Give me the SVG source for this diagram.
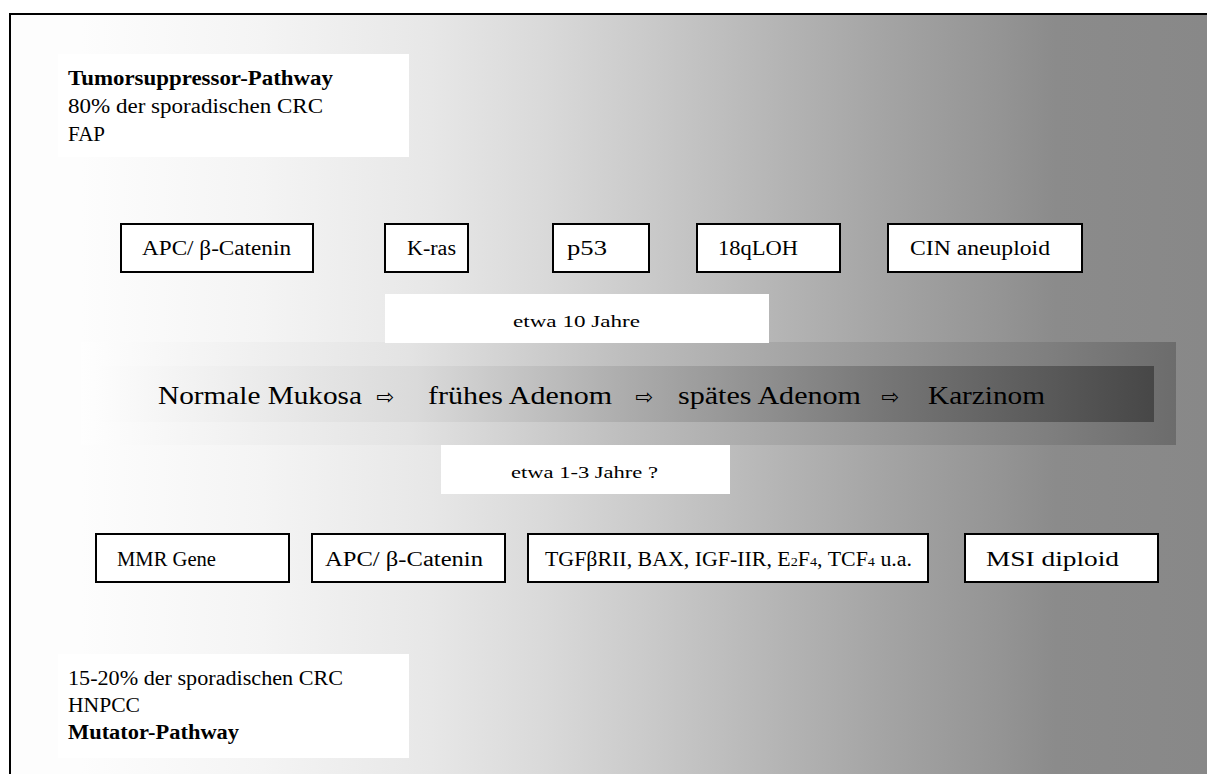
<svg xmlns="http://www.w3.org/2000/svg" width="1207" height="774" viewBox="0 0 1207 774">
  <style>
    .t { font-family: "Liberation Serif", "Times New Roman", serif; fill: #000; }
    .box { fill: #fff; stroke: #000; stroke-width: 2; }
    .wb { fill: #fff; }
    .arr { font-family: "DejaVu Sans", sans-serif; font-size: 21px; fill: #000; }
  </style>
  <defs>
    <linearGradient id="bg" gradientUnits="userSpaceOnUse" x1="81" y1="0" x2="1207" y2="0">
      <stop offset="0" stop-color="#fdfdfd"/>
      <stop offset="0.161" stop-color="#f4f4f4"/>
      <stop offset="0.311" stop-color="#e7e7e7"/>
      <stop offset="0.407" stop-color="#dadada"/>
      <stop offset="0.509" stop-color="#c9c9c9"/>
      <stop offset="0.612" stop-color="#b6b6b6"/>
      <stop offset="0.714" stop-color="#a4a4a4"/>
      <stop offset="0.817" stop-color="#949494"/>
      <stop offset="0.865" stop-color="#8b8b8b"/>
      <stop offset="1" stop-color="#888888"/>
    </linearGradient>
    <linearGradient id="outer" gradientUnits="userSpaceOnUse" x1="81" y1="0" x2="1176" y2="0">
      <stop offset="0" stop-color="#fefefe"/>
      <stop offset="0.3" stop-color="#e3e3e3"/>
      <stop offset="0.5" stop-color="#bdbdbd"/>
      <stop offset="0.75" stop-color="#949494"/>
      <stop offset="1" stop-color="#6c6c6c"/>
    </linearGradient>
    <linearGradient id="inner" gradientUnits="userSpaceOnUse" x1="100" y1="0" x2="1154" y2="0">
      <stop offset="0" stop-color="#fcfcfc"/>
      <stop offset="0.3" stop-color="#dadada"/>
      <stop offset="0.5" stop-color="#acacac"/>
      <stop offset="0.75" stop-color="#757575"/>
      <stop offset="1" stop-color="#474747"/>
    </linearGradient>
  </defs>

  <rect x="0" y="0" width="1207" height="774" fill="#fff"/>
  <rect x="10" y="14" width="1197" height="760" fill="url(#bg)"/>
  <path d="M10 774 V14 H1207" fill="none" stroke="#000" stroke-width="2"/>

  <g id="band">
    <rect x="81" y="342" width="1095" height="103" fill="url(#outer)"/>
    <rect x="100" y="366" width="1054" height="56" fill="url(#inner)"/>
  </g>

  <g id="tumorsuppressor-info">
    <rect class="wb" x="58" y="54" width="351" height="103"/>
    <text class="t" x="68" y="85" font-size="20" font-weight="bold" textLength="265" lengthAdjust="spacingAndGlyphs">Tumorsuppressor-Pathway</text>
    <text class="t" x="68" y="113" font-size="20" textLength="255" lengthAdjust="spacingAndGlyphs">80% der sporadischen CRC</text>
    <text class="t" x="68" y="141" font-size="20" textLength="37" lengthAdjust="spacingAndGlyphs">FAP</text>
  </g>

  <g id="apc-top">
    <rect class="box" x="121" y="224" width="192" height="48"/>
    <text class="t" x="142" y="255" font-size="20" textLength="149" lengthAdjust="spacingAndGlyphs">APC/ β-Catenin</text>
  </g>
  <g id="kras">
    <rect class="box" x="385" y="224" width="83" height="48"/>
    <text class="t" x="407" y="255" font-size="20" textLength="49" lengthAdjust="spacingAndGlyphs">K-ras</text>
  </g>
  <g id="p53">
    <rect class="box" x="553" y="224" width="96" height="48"/>
    <text class="t" x="567" y="255" font-size="20" textLength="40" lengthAdjust="spacingAndGlyphs">p53</text>
  </g>
  <g id="18qloh">
    <rect class="box" x="697" y="224" width="143" height="48"/>
    <text class="t" x="718" y="255" font-size="20" textLength="80" lengthAdjust="spacingAndGlyphs">18qLOH</text>
  </g>
  <g id="cin">
    <rect class="box" x="888" y="224" width="194" height="48"/>
    <text class="t" x="910" y="255" font-size="20" textLength="140" lengthAdjust="spacingAndGlyphs">CIN aneuploid</text>
  </g>

  <g id="etwa10">
    <rect class="wb" x="385" y="294" width="384" height="49"/>
    <text class="t" x="513" y="327" font-size="17" textLength="127" lengthAdjust="spacingAndGlyphs">etwa 10 Jahre</text>
  </g>

  <g id="sequence">
    <text class="t" x="158" y="404" font-size="26" textLength="204" lengthAdjust="spacingAndGlyphs">Normale Mukosa</text>
    <text class="arr" x="385" y="404" text-anchor="middle">⇨</text>
    <text class="t" x="428" y="404" font-size="26" textLength="184" lengthAdjust="spacingAndGlyphs">frühes Adenom</text>
    <text class="arr" x="644" y="404" text-anchor="middle">⇨</text>
    <text class="t" x="678" y="404" font-size="26" textLength="183" lengthAdjust="spacingAndGlyphs">spätes Adenom</text>
    <text class="arr" x="890" y="404" text-anchor="middle">⇨</text>
    <text class="t" x="928" y="404" font-size="26" textLength="117" lengthAdjust="spacingAndGlyphs">Karzinom</text>
  </g>

  <g id="etwa13">
    <rect class="wb" x="441" y="445" width="289" height="49"/>
    <text class="t" x="511" y="478" font-size="17" textLength="147" lengthAdjust="spacingAndGlyphs">etwa 1-3 Jahre ?</text>
  </g>

  <g id="mmr">
    <rect class="box" x="96" y="534" width="193" height="48"/>
    <text class="t" x="117" y="566" font-size="20" textLength="99" lengthAdjust="spacingAndGlyphs">MMR Gene</text>
  </g>
  <g id="apc-bottom">
    <rect class="box" x="312" y="534" width="193" height="48"/>
    <text class="t" x="325" y="566" font-size="20" textLength="158" lengthAdjust="spacingAndGlyphs">APC/ β-Catenin</text>
  </g>
  <g id="tgf">
    <rect class="box" x="528" y="534" width="400" height="48"/>
    <text class="t" x="545" y="566" font-size="20" textLength="367" lengthAdjust="spacingAndGlyphs">TGFβRII, BAX, IGF-IIR, E<tspan font-size="13">2</tspan>F<tspan font-size="13">4</tspan>, TCF<tspan font-size="13">4</tspan> u.a.</text>
  </g>
  <g id="msi">
    <rect class="box" x="965" y="534" width="193" height="48"/>
    <text class="t" x="986" y="566" font-size="20" textLength="133" lengthAdjust="spacingAndGlyphs">MSI diploid</text>
  </g>

  <g id="mutator-info">
    <rect class="wb" x="58" y="654" width="351" height="104"/>
    <text class="t" x="68" y="685" font-size="20" textLength="275" lengthAdjust="spacingAndGlyphs">15-20% der sporadischen CRC</text>
    <text class="t" x="68" y="712" font-size="20" textLength="72" lengthAdjust="spacingAndGlyphs">HNPCC</text>
    <text class="t" x="68" y="739" font-size="20" font-weight="bold" textLength="171" lengthAdjust="spacingAndGlyphs">Mutator-Pathway</text>
  </g>

  <g id="connectors"></g>
</svg>
